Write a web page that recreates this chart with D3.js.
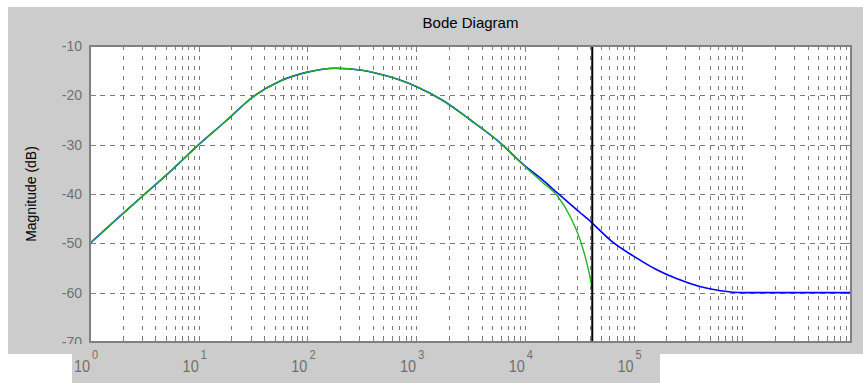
<!DOCTYPE html>
<html>
<head>
	<meta charset="utf-8">
	<script src="https://d3js.org/d3.v7.min.js"></script>
	<style>
		body { margin: 0; background: #fff; }
		text { font-family: "Liberation Sans", Arial, sans-serif; }
	</style>
</head>
<body>
<div id="graph"></div>
<script>

// frequencies (x)
var freqs = [1, 1.78, 3.16, 5.62, 10, 17.8, 31.6, 56.2, 100, 178, 316, 562,
             1000, 1778, 3162, 5623, 10000, 14125, 19953, 26303, 32359, 37154,
             40738, 41687, 63096, 100000, 158489, 251189, 398107, 630957,
             1000000, 3162278, 10000000];

// magnitude of the analog response (blue), dB
var magBlue = [-50, -45, -40.1, -35.2, -30, -25.2, -20.3, -17.1, -15.3, -14.5, -14.9, -16.2,
               -18.2, -21.1, -25, -29.2, -34.3, -36.9, -39.8, -42.1, -43.8, -44.9,
               -45.7, -45.9, -49.6, -52.6, -55.2, -57.2, -58.7, -59.6,
               -60, -60, -60];

// magnitude of the digital response (green), dB, stops at the vertical line
var magGreen = [-50, -45, -40.1, -35.2, -30, -25.2, -20.3, -17.1, -15.3, -14.5, -14.9, -16.2,
                -18.2, -21.1, -25, -29.2, -34.4, -37.4, -40.4, -44.7, -49.4, -54.0,
                -58.1, -59.5, null, null, null, null, null, null,
                null, null, null];

var markerFreq = 41687;
var yTicks = [-10, -20, -30, -40, -50, -60, -70];
var xDecades = [0, 1, 2, 3, 4, 5];
var title = "Bode Diagram";
var yLabel = "Magnitude (dB)";

var W = 863, H = 383;
var margin = {top: 46, right: 12, bottom: 41, left: 90};
var width = W - margin.left - margin.right,
    height = H - margin.top - margin.bottom;

var svg = d3.select("#graph").append("svg")
  .attr("width", W).attr("height", H);

// figure background
svg.append("rect").attr("x", 8).attr("y", 7)
  .attr("width", W - 8).attr("height", 347).attr("fill", "#cccccc");

var x = d3.scaleLog().domain([1, 1e7]).range([0, width]);
var y = d3.scaleLinear().domain([-70, -10]).range([height, 0]);

var g = svg.append("g")
  .attr("transform", "translate(" + margin.left + "," + margin.top + ")");

g.append("rect").attr("width", width).attr("height", height).attr("fill", "#fff");

// grid values: every 1..9 x decade
var gridF = [];
for (var e = 0; e < 7; e++) {
  for (var m = 1; m < 10; m++) gridF.push(m * Math.pow(10, e));
}
gridF.push(1e7);

g.append("g").selectAll("line").data(gridF.filter(function(f) { return f > 1 && f < 1e7; }))
  .enter().append("line")
  .attr("x1", function(d) { return Math.round(x(d)) + 0.5; })
  .attr("x2", function(d) { return Math.round(x(d)) + 0.5; })
  .attr("y1", 0).attr("y2", height)
  .attr("stroke", "#7a7a7a").attr("stroke-width", 1)
  .attr("stroke-dasharray", "4,6");

g.append("g").selectAll("line").data(yTicks.slice(1, -1))
  .enter().append("line")
  .attr("x1", 0).attr("x2", width)
  .attr("y1", function(d) { return Math.round(y(d)) + 0.5; })
  .attr("y2", function(d) { return Math.round(y(d)) + 0.5; })
  .attr("stroke", "#7a7a7a").attr("stroke-width", 1)
  .attr("stroke-dasharray", "5,5");

// inward ticks
var tk = g.append("g").attr("stroke", "#808080").attr("stroke-width", 1);
gridF.forEach(function(f) {
  var px = Math.round(x(f)) + 0.5;
  var major = Math.abs(Math.log10(f) - Math.round(Math.log10(f))) < 1e-9;
  var len = major ? 6 : 4;
  tk.append("line").attr("x1", px).attr("x2", px).attr("y1", height).attr("y2", height - len);
  tk.append("line").attr("x1", px).attr("x2", px).attr("y1", 0).attr("y2", len);
});
yTicks.forEach(function(v) {
  var py = Math.round(y(v)) + 0.5;
  tk.append("line").attr("x1", 0).attr("x2", 6).attr("y1", py).attr("y2", py);
  tk.append("line").attr("x1", width).attr("x2", width - 6).attr("y1", py).attr("y2", py);
});

// curves
var blueData = freqs.map(function(f, i) { return {f: f, v: magBlue[i]}; });
var greenData = freqs.map(function(f, i) { return {f: f, v: magGreen[i]}; })
  .filter(function(d) { return d.v !== null; });

var line = d3.line().curve(d3.curveMonotoneX)
  .x(function(d) { return x(d.f); })
  .y(function(d) { return y(d.v); });

g.append("path").datum(blueData).attr("d", line)
  .attr("fill", "none").attr("stroke", "#0000ff").attr("stroke-width", 1.6);
g.append("path").datum(greenData).attr("d", line)
  .attr("fill", "none").attr("stroke", "#1fb51f").attr("stroke-width", 1.4);

// vertical marker line
g.append("line")
  .attr("x1", x(markerFreq)).attr("x2", x(markerFreq))
  .attr("y1", 0).attr("y2", height)
  .attr("stroke", "#000").attr("stroke-width", 2);

// axes box
g.append("rect").attr("width", width).attr("height", height)
  .attr("fill", "none").attr("stroke", "#808080").attr("stroke-width", 2);

// y tick labels
g.append("g").selectAll("text").data(yTicks).enter().append("text")
  .attr("x", -8).attr("y", function(d) { return y(d); })
  .attr("dy", "0.36em")
  .attr("text-anchor", "end")
  .attr("font-size", "14px")
  .attr("fill", "#707070")
  .text(function(d) { return d; });

// area under the axes, clipped as in the screenshot
svg.append("rect").attr("x", 8).attr("y", 344).attr("width", 652).attr("height", 10).attr("fill", "#cccccc");
svg.append("rect").attr("x", 72).attr("y", 344).attr("width", 588).attr("height", 39).attr("fill", "#cccccc");

// x tick labels: 10 with exponent
var xl = svg.append("g").selectAll("g").data(xDecades).enter().append("g")
  .attr("transform", function(d) { return "translate(" + (margin.left + x(Math.pow(10, d))) + ",372) scale(1,1.2)"; });
xl.append("text").attr("text-anchor", "end").attr("font-size", "14.5px")
  .attr("fill", "#707070").text("10");
xl.append("text").attr("x", 2).attr("y", -10.5).attr("font-size", "11px")
  .attr("fill", "#707070").text(function(d) { return d; });

// title
svg.append("text")
  .attr("x", margin.left + width / 2).attr("y", 28)
  .attr("text-anchor", "middle").attr("font-size", "15px")
  .attr("fill", "#000").text(title);

// y axis label
svg.append("text")
  .attr("transform", "translate(36," + (margin.top + height / 2) + ") rotate(-90)")
  .attr("text-anchor", "middle").attr("font-size", "14px")
  .attr("fill", "#000").text(yLabel);

</script>
</body>
</html>
